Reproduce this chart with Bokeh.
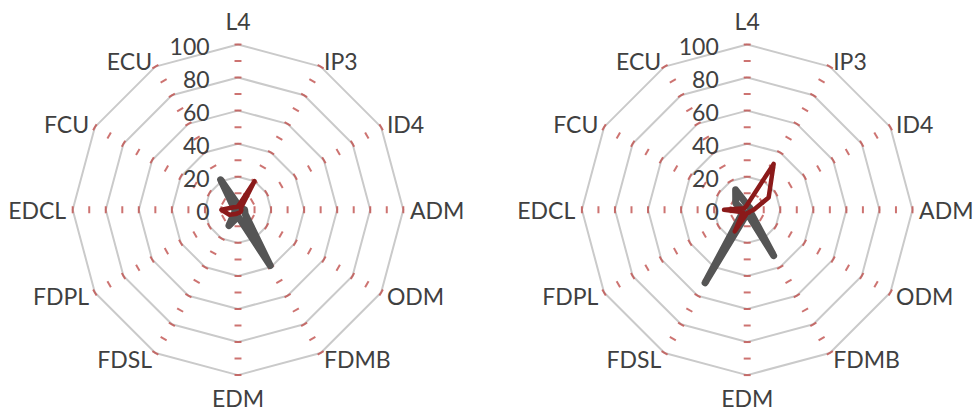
import numpy as np
from bokeh.plotting import figure
from bokeh.layouts import row
from bokeh.models import Range1d
from bokeh.embed import file_html
from bokeh.resources import INLINE
from bokeh.core.properties import value

# ---------------- data ----------------
categories = ["L4", "IP3", "ID4", "ADM", "ODM", "FDMB", "EDM", "FDSL", "FDPL", "EDCL", "FCU", "ECU"]
grid_levels = [20, 40, 60, 80, 100]
minor_levels = [10, 20, 30, 40, 50, 60, 70, 80, 90, 100]
value_ticks = [0, 20, 40, 60, 80, 100]
value_tick_labels = ["0", "20", "40", "60", "80", "100"]

gray_left = [3, 2, 2, 4, 5, 39, 4, 11, 2, 2, 3, 21]
red_left = [2, 20, 2, 2, 2, 2, 2, 3, 6, 10, 3, 2]

gray_right = [3, 2, 2, 2, 2, 32, 2, 51, 3, 3, 8, 14]
red_right = [3, 32, 15, 4, 2, 2, 2, 15, 3, 14, 2, 2]

# ---------------- styling ----------------
S = 1.653          # px per data unit
H = 412
CY = 209.3         # centre, px from top of figure
TEXT_COLOR = "#404040"
FONT = "Lato"
FSIZE = "23px"
GRID_COLOR = "#cacaca"
TICK_COLOR = "#c0504d"
GRAY = "#555555"
RED = "#8b1a1a"

n = len(categories)
theta = np.pi / 2 - np.arange(n) * 2 * np.pi / n


def polar(vals):
    v = np.asarray(vals, dtype=float)
    return v * np.cos(theta), v * np.sin(theta)


def make_radar(gray, red, width, cx):
    p = figure(width=width, height=H, output_backend="svg", toolbar_location=None,
               x_range=Range1d(-cx / S, (width - cx) / S),
               y_range=Range1d(-(H - CY) / S, CY / S),
               min_border=0, outline_line_color=None)
    p.axis.visible = False
    p.grid.visible = False
    p.background_fill_color = "white"
    p.border_fill_color = "white"

    # gridline polygons
    for lv in grid_levels:
        xs, ys = polar([lv] * n)
        p.line(list(xs) + [xs[0]], list(ys) + [ys[0]], line_color=GRID_COLOR, line_width=2)

    # minor tick marks along spokes
    x0, y0, x1, y1 = [], [], [], []
    h = 2.1
    for t in theta:
        px, py = -np.sin(t), np.cos(t)
        for lv in minor_levels:
            cxv, cyv = lv * np.cos(t), lv * np.sin(t)
            x0.append(cxv - h * px); y0.append(cyv - h * py)
            x1.append(cxv + h * px); y1.append(cyv + h * py)
    p.segment(x0, y0, x1, y1, line_color=TICK_COLOR, line_alpha=0.8, line_width=2)

    # series
    gx, gy = polar(gray)
    p.line(list(gx) + [gx[0]], list(gy) + [gy[0]], line_color=GRAY, line_width=7,
           line_join="round", line_cap="round")
    rx, ry = polar(red)
    p.line(list(rx) + [rx[0]], list(ry) + [ry[0]], line_color=RED, line_width=4.5,
           line_join="round", line_cap="round")

    # category labels
    groups = {"left": ([], [], []), "right": ([], [], []), "center": ([], [], [])}
    for c, t in zip(categories, theta):
        ct = np.cos(t)
        if abs(ct) < 1e-6:
            r = 114
            key = "center"
        else:
            r = 104
            key = "left" if ct > 0 else "right"
        groups[key][0].append(r * np.cos(t))
        groups[key][1].append(r * np.sin(t))
        groups[key][2].append(c)
    for key, (xs, ys, ts) in groups.items():
        p.text(xs, ys, text=ts, text_align=key, text_baseline="middle",
               text_font=value(FONT), text_font_size=FSIZE, text_color=TEXT_COLOR)

    # value labels
    p.text([-17.2] * len(value_ticks), [v - 1.3 for v in value_ticks], text=value_tick_labels,
           text_align="right", text_baseline="middle",
           text_font=value(FONT), text_font_size=FSIZE, text_color=TEXT_COLOR)
    return p


p1 = make_radar(gray_left, red_left, 490, 237.5)
p2 = make_radar(gray_right, red_right, 486, 256.7)

layout = row(p1, p2)
open("out.html", "w").write(file_html(layout, INLINE))
